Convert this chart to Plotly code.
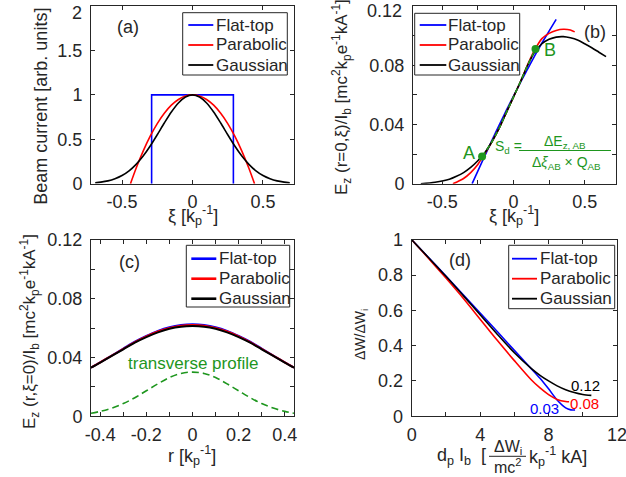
import plotly.graph_objects as go

# ---------------- data ----------------
# (a) beam current profiles
xi_flat_a = [-0.29, -0.29, 0.29, 0.29]
cur_flat_a = [0, 1, 1, 0]
xi_par_a = [-0.44, -0.4, -0.35, -0.3, -0.25, -0.2, -0.15, -0.1, -0.05, 0,
            0.05, 0.1, 0.15, 0.2, 0.25, 0.3, 0.35, 0.4, 0.44]
cur_par_a = [0, 0.174, 0.367, 0.535, 0.677, 0.793, 0.884, 0.948, 0.987, 1,
             0.987, 0.948, 0.884, 0.793, 0.677, 0.535, 0.367, 0.174, 0]
xi_gau_a = [-0.69, -0.65, -0.6, -0.55, -0.5, -0.45, -0.4, -0.35, -0.3, -0.25, -0.2, -0.15, -0.1, -0.05, 0,
            0.05, 0.1, 0.15, 0.2, 0.25, 0.3, 0.35, 0.4, 0.45, 0.5, 0.55, 0.6, 0.65, 0.69]
cur_gau_a = [0.011, 0.018, 0.032, 0.056, 0.092, 0.145, 0.218, 0.311, 0.424, 0.551, 0.683, 0.807, 0.909, 0.976, 1,
             0.976, 0.909, 0.807, 0.683, 0.551, 0.424, 0.311, 0.218, 0.145, 0.092, 0.056, 0.032, 0.018, 0.011]

# (b) on-axis longitudinal field
xi_flat_b = [-0.29, -0.25, -0.2, -0.15, -0.1, -0.05, 0, 0.05, 0.1, 0.15, 0.2, 0.25, 0.3]
ez_flat_b = [0, 0.0085, 0.019, 0.0295, 0.0395, 0.0495, 0.059, 0.0685, 0.0775, 0.0865, 0.095, 0.103, 0.111]
xi_par_b = [-0.425, -0.4, -0.35, -0.3, -0.25, -0.2, -0.15, -0.1, -0.05, 0, 0.05, 0.1, 0.15,
            0.2, 0.25, 0.3, 0.35, 0.4, 0.43]
ez_par_b = [0, 0.001, 0.0035, 0.0075, 0.013, 0.0205, 0.0285, 0.0375, 0.048, 0.0585, 0.069, 0.0805, 0.0905,
            0.098, 0.1015, 0.1035, 0.1043, 0.1038, 0.1025]
xi_gau_b = [-0.65, -0.55, -0.45, -0.4, -0.35, -0.3, -0.25, -0.2, -0.15, -0.1, -0.05, 0, 0.05, 0.1, 0.15,
            0.2, 0.25, 0.3, 0.35, 0.4, 0.45, 0.5, 0.55, 0.6, 0.65]
ez_gau_b = [0, 0.001, 0.003, 0.005, 0.0075, 0.011, 0.0155, 0.021, 0.0285, 0.0375, 0.048, 0.0585, 0.069, 0.080, 0.089,
            0.0945, 0.0975, 0.099, 0.0993, 0.0985, 0.097, 0.0945, 0.0918, 0.0888, 0.0858]
xi_fit_b = [-0.22, -0.15, -0.1, -0.05, 0, 0.05, 0.1, 0.155]
ez_fit_b = [0.0183, 0.0285, 0.0375, 0.048, 0.0585, 0.069, 0.080, 0.091]
xi_pts_b = [-0.22, 0.155]
ez_pts_b = [0.0183, 0.091]

# (c) transverse field profile at xi = 0
r_c = [-0.44, -0.4, -0.35, -0.3, -0.25, -0.2, -0.15, -0.1, -0.05, 0,
       0.05, 0.1, 0.15, 0.2, 0.25, 0.3, 0.35, 0.4, 0.44]
ez_flat_c = [0.0331, 0.0367, 0.0413, 0.0460, 0.0507, 0.0546, 0.0580, 0.0605, 0.0620, 0.0625,
             0.0620, 0.0605, 0.0580, 0.0546, 0.0507, 0.0460, 0.0413, 0.0367, 0.0331]
ez_par_c = [0.0331, 0.0366, 0.0412, 0.0458, 0.0504, 0.0543, 0.0576, 0.0601, 0.0616, 0.0620,
            0.0616, 0.0601, 0.0576, 0.0543, 0.0504, 0.0458, 0.0412, 0.0366, 0.0331]
ez_gau_c = [0.0330, 0.0365, 0.0410, 0.0455, 0.0500, 0.0538, 0.0570, 0.0595, 0.0609, 0.0613,
            0.0609, 0.0595, 0.0570, 0.0538, 0.0500, 0.0455, 0.0410, 0.0365, 0.0330]
prof_c = [0.0020, 0.0033, 0.0055, 0.0086, 0.0126, 0.0173, 0.0220, 0.0263, 0.0291, 0.0300,
          0.0291, 0.0263, 0.0220, 0.0173, 0.0126, 0.0086, 0.0055, 0.0033, 0.0020]

# (d) energy spread reduction
d_flat = [0, 1, 2, 3, 4, 5, 6, 7, 7.5, 8, 8.5, 9, 9.3, 9.55]
w_flat = [1, 0.898, 0.795, 0.69, 0.585, 0.48, 0.373, 0.268, 0.215, 0.155, 0.092, 0.047, 0.036, 0.035]
d_par = [0, 1, 2, 3, 4, 5, 6, 7, 7.5, 8, 8.5, 9, 9.2]
w_par = [1, 0.893, 0.783, 0.67, 0.55, 0.43, 0.315, 0.205, 0.16, 0.122, 0.095, 0.083, 0.082]
d_gau = [0, 1, 2, 3, 4, 5, 6, 7, 7.5, 8, 8.5, 9, 9.5, 10, 10.5]
w_gau = [1, 0.897, 0.793, 0.685, 0.575, 0.465, 0.36, 0.27, 0.232, 0.2, 0.172, 0.15, 0.134, 0.123, 0.118]
end_labels_d = ["0.03", "0.08", "0.12"]

names = ["Flat-top", "Parabolic", "Gaussian"]
colors = ["#0000ff", "#ff0000", "#000000"]
GREEN = "rgb(30,150,30)"
TXT = "#262626"
FONT = "Liberation Sans, Arial, sans-serif"

W, H = 626, 477
def PX(x): return x / W
def PY(y): return 1 - y / H

fig = go.Figure()

def add_line(x, y, xa, ya, color, name, width=1.6, shape="spline"):
    fig.add_trace(go.Scatter(x=x, y=y, xaxis=xa, yaxis=ya, mode="lines", name=name,
                             line=dict(color=color, width=width, shape=shape, smoothing=0.8),
                             showlegend=False))

# (a)
add_line(xi_flat_a, cur_flat_a, "x", "y", colors[0], names[0], shape="linear")
add_line(xi_par_a, cur_par_a, "x", "y", colors[1], names[1])
add_line(xi_gau_a, cur_gau_a, "x", "y", colors[2], names[2])
# (b)
add_line(xi_flat_b, ez_flat_b, "x2", "y2", colors[0], names[0])
add_line(xi_par_b, ez_par_b, "x2", "y2", colors[1], names[1])
add_line(xi_gau_b, ez_gau_b, "x2", "y2", colors[2], names[2])
fig.add_trace(go.Scatter(x=xi_fit_b, y=ez_fit_b, xaxis="x2", yaxis="y2", mode="lines",
                         line=dict(color=GREEN, width=1.6, dash="5px,3px", shape="spline"),
                         showlegend=False))
fig.add_trace(go.Scatter(x=xi_pts_b, y=ez_pts_b, xaxis="x2", yaxis="y2", mode="markers",
                         marker=dict(color=GREEN, size=8), showlegend=False))
# (c)
add_line(r_c, ez_flat_c, "x3", "y3", colors[0], names[0], width=2.0)
add_line(r_c, ez_par_c, "x3", "y3", colors[1], names[1], width=2.0)
add_line(r_c, ez_gau_c, "x3", "y3", colors[2], names[2], width=2.0)
fig.add_trace(go.Scatter(x=r_c, y=prof_c, xaxis="x3", yaxis="y3", mode="lines",
                         line=dict(color=GREEN, width=1.6, dash="7px,4px", shape="spline"),
                         showlegend=False))
# (d)
add_line(d_flat, w_flat, "x4", "y4", colors[0], names[0])
add_line(d_par, w_par, "x4", "y4", colors[1], names[1])
add_line(d_gau, w_gau, "x4", "y4", colors[2], names[2])

def axis(domain, rng, tickvals, ticktext, anchor, standoff=4):
    return dict(domain=domain, range=rng, tickvals=tickvals, ticktext=ticktext, anchor=anchor,
                automargin=False, ticklabeloverflow="allow",
                showline=True, linecolor=TXT, linewidth=1, mirror="allticks",
                ticks="inside", ticklen=4, tickwidth=1, tickcolor=TXT,
                showgrid=False, zeroline=False, ticklabelstandoff=standoff,
                tickfont=dict(family=FONT, size=18, color=TXT))

dom_xa = [PX(91), PX(294)]
dom_xb = [PX(413), PX(616)]
dom_xd = [PX(411.7), PX(617)]
dom_top = [PY(183.7), PY(6)]
dom_bot = [PY(416.2), PY(239.8)]

y012 = [0, 0.02, 0.04, 0.06, 0.08, 0.10, 0.12]
y012t = ["0", "", "0.04", "", "0.08", "", "0.12"]
# topmost labels of the upper panels are drawn as annotations (nudged inside the page)
y012t_top = ["0", "", "0.04", "", "0.08", "", ""]

fig.update_layout(
    width=W, height=H, margin=dict(l=0, r=0, t=0, b=0, autoexpand=False),
    paper_bgcolor="white", plot_bgcolor="white", showlegend=False,
    font=dict(family=FONT, color=TXT),
    xaxis=axis(dom_xa, [-0.72, 0.72], [-0.5, 0, 0.5], ["-0.5", "0", "0.5"], "y", 2),
    yaxis=axis(dom_top, [0, 2], [0, 0.5, 1, 1.5, 2], ["0", "0.5", "1", "1.5", ""], "x"),
    xaxis2=axis(dom_xb, [-0.705, 0.72], [-0.5, -0.25, 0, 0.25, 0.5], ["-0.5", "", "0", "", "0.5"], "y2", 2),
    yaxis2=axis(dom_top, [0, 0.12], y012, y012t_top, "x2"),
    xaxis3=axis(dom_xa, [-0.44, 0.44], [-0.4, -0.3, -0.2, -0.1, 0, 0.1, 0.2, 0.3, 0.4],
                ["-0.4", "", "-0.2", "", "0", "", "0.2", "", "0.4"], "y3", 2),
    yaxis3=axis(dom_bot, [0, 0.12], y012, y012t, "x3"),
    xaxis4=axis(dom_xd, [0, 12], [0, 2, 4, 6, 8, 10, 12], ["0", "", "4", "", "8", "", "12"], "y4", 2),
    yaxis4=axis(dom_bot, [0, 1], [0, 0.2, 0.4, 0.6, 0.8, 1], ["0", "0.2", "0.4", "0.6", "0.8", "1"], "x4"),
)

ann = []
shapes = []
def text(x, y, s, size=18, color=TXT, angle=0, xa="center", ya="middle"):
    ann.append(dict(x=PX(x), y=PY(y), xref="paper", yref="paper", text=s, showarrow=False,
                    textangle=angle, xanchor=xa, yanchor=ya,
                    font=dict(family=FONT, size=size, color=color)))

def hline(x0, x1, y, color, width=1):
    shapes.append(dict(type="line", xref="paper", yref="paper", x0=PX(x0), x1=PX(x1),
                       y0=PY(y), y1=PY(y), line=dict(color=color, width=width)))

# boxed legends (one per panel)
def legend_box(x0, x1, y0, y1, line_x0, line_x1, text_x, rows, lw):
    shapes.append(dict(type="rect", xref="paper", yref="paper", x0=PX(x0), x1=PX(x1),
                       y0=PY(y1), y1=PY(y0), line=dict(color=TXT, width=1), fillcolor="white",
                       layer="above"))
    for name, color, ry in zip(names, colors, rows):
        hline(line_x0, line_x1, ry, color, lw)
        text(text_x, ry, name, size=17, xa="left")

legend_box(182.7, 287.3, 12.7, 75, 188.3, 213.3, 214, [25, 45, 65], 1.8)
legend_box(414.7, 519.7, 13.3, 75, 419.7, 446.3, 446, [25, 45, 65], 1.8)
legend_box(186.3, 289.7, 245.3, 307, 191.3, 216.3, 216.5, [258.7, 278.7, 298.7], 2.6)
legend_box(508.7, 614.7, 245.3, 308.7, 512, 537, 537.5, [258.7, 278.7, 298.7], 1.8)

# top tick labels of the upper panels
text(84, 13, "2", xa="right")
text(404, 11, "0.12", xa="right")

# panel labels
text(128, 27, "(a)")
text(594.7, 31.7, "(b)")
text(129.7, 262, "(c)")
text(460.3, 260.3, "(d)")

# axis titles
text(41, 106.7, "Beam current [arb. units]", angle=-90)
text(192.7, 215.5, "ξ [k<sub>p</sub><sup>-1</sup>]")
text(341, 97, "E<sub>z</sub> (r=0,ξ)/I<sub>b</sub> [mc<sup>2</sup>k<sub>p</sub>e<sup>-1</sup>kA<sup>-1</sup>]", size=17, angle=-90)
text(513.5, 215.5, "ξ [k<sub>p</sub><sup>-1</sup>]")
text(29, 332, "E<sub>z</sub> (r,ξ=0)/I<sub>b</sub> [mc<sup>2</sup>k<sub>p</sub>e<sup>-1</sup>kA<sup>-1</sup>]", size=17, angle=-90)
text(191.7, 455, "r [k<sub>p</sub><sup>-1</sup>]")
text(361, 335, "ΔW/ΔW<sub>i</sub>", size=14, angle=-90)

# (d) x title with fraction
text(488, 456, "d<sub>p</sub> I<sub>b</sub>  [", xa="right")
text(507.5, 447, "ΔW<sub>i</sub>", size=16)
text(507.5, 466, "mc<sup>2</sup>", size=16)
text(527, 456, "k<sub>p</sub><sup>-1</sup> kA]", xa="left")
hline(489, 526, 456.3, TXT, 1)

# (b) formula and point labels
text(469, 153.3, "A", color=GREEN)
text(550.3, 50, "B", color=GREEN)
text(493, 147, "S<sub>d</sub> =", size=14, color=GREEN, xa="left")
text(565, 142, "ΔE<sub>z, AB</sub>", size=14, color=GREEN)
text(566, 163, "Δ<i>ξ</i><sub>AB</sub> × Q<sub>AB</sub>", size=14, color=GREEN)
hline(519, 611, 150.5, GREEN, 1)

# (c) label
text(193.3, 363, "transverse profile", size=17, color=GREEN)

# (d) end values
text(544.7, 408.7, end_labels_d[0], size=15, color=colors[0])
text(584.7, 403, end_labels_d[1], size=15, color=colors[1])
text(585, 385.3, end_labels_d[2], size=15, color=colors[2])

fig.update_layout(annotations=ann, shapes=shapes)

fig.write_html("out.html", config={"displayModeBar": False},
               post_script="document.body.style.margin='0';")
